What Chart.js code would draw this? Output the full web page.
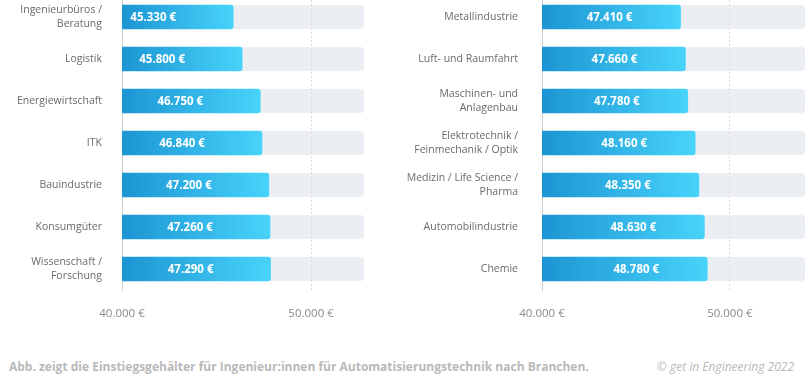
<!DOCTYPE html>
<html lang="de">
<head>
<meta charset="utf-8">
<script src="https://cdn.jsdelivr.net/npm/chart.js@4.4.1/dist/chart.umd.min.js"></script>
<style>
  html, body { margin: 0; padding: 0; background: #fff; }
  body { width: 806px; height: 375px; position: relative; overflow: hidden; font-family: "Open Sans", sans-serif; }
  .panel { position: absolute; top: -4px; height: 330px; }
  #left { left: 0; width: 400px; }
  #right { left: 400px; width: 406px; }
  .note { position: absolute; top: 359px; font-size: 12px; color: #b9b9b9; white-space: nowrap; line-height: 16px; }
  #caption { left: 9px; font-weight: 700; }
  #credit { right: 12px; font-style: italic; }
</style>
</head>
<body>
<div class="panel" id="left"><canvas id="leftChart"></canvas></div>
<div class="panel" id="right"><canvas id="rightChart"></canvas></div>
<div class="note" id="caption">Abb. zeigt die Einstiegsgehälter für Ingenieur:innen für Automatisierungstechnik nach Branchen.</div>
<div class="note" id="credit">© get in Engineering 2022</div>

<script>
const leftCategories = [
    ['Ingenieurbüros /', 'Beratung'],
    'Logistik',
    'Energiewirtschaft',
    'ITK',
    'Bauindustrie',
    'Konsumgüter',
    ['Wissenschaft /', 'Forschung']
];
const leftSalaries = [45330, 45800, 46750, 46840, 47200, 47260, 47290];

const rightCategories = [
    'Metallindustrie',
    'Luft- und Raumfahrt',
    ['Maschinen- und', 'Anlagenbau'],
    ['Elektrotechnik /', 'Feinmechanik / Optik'],
    ['Medizin / Life Science /', 'Pharma'],
    'Automobilindustrie',
    'Chemie'
];
const rightSalaries = [47410, 47660, 47780, 48160, 48350, 48630, 48780];

const axisTicks = [40000, 50000];

Chart.defaults.font.family = '"Open Sans", sans-serif';
Chart.defaults.animation = false;

function euro(v) {
    return String(v).replace(/\B(?=(\d{3})+(?!\d))/g, '.') + ' €';
}

// grey track behind every bar, drawn before the grid
const trackPlugin = {
    id: 'track',
    beforeDraw(chart) {
        const { ctx, chartArea } = chart;
        const meta = chart.getDatasetMeta(0);
        ctx.save();
        ctx.fillStyle = '#ebeff3';
        meta.data.forEach(bar => {
            const h = bar.height;
            ctx.beginPath();
            ctx.roundRect(chartArea.left, bar.y - h / 2, chartArea.right - chartArea.left, h, 4);
            ctx.fill();
        });
        ctx.restore();
    }
};

// white salary text inside the bar, a fixed distance before its end
const valuePlugin = {
    id: 'values',
    afterDatasetsDraw(chart, args, opts) {
        const { ctx } = chart;
        const meta = chart.getDatasetMeta(0);
        const data = chart.data.datasets[0].data;
        ctx.save();
        ctx.fillStyle = '#fff';
        ctx.font = 'bold 11.5px "Open Sans", sans-serif';
        ctx.textAlign = 'center';
        ctx.textBaseline = 'middle';
        meta.data.forEach((bar, i) => {
            ctx.fillText(euro(data[i]), bar.x - opts.offset, bar.y + 1);
        });
        ctx.restore();
    }
};

function makeChart(id, categories, salaries, cfg) {
    return new Chart(document.getElementById(id), {
        type: 'bar',
        data: {
            labels: categories,
            datasets: [{
                data: salaries,
                xAxisID: 'x',
                barThickness: 24,
                borderRadius: 3,
                borderSkipped: 'start',
                backgroundColor: c => {
                    const area = c.chart.chartArea;
                    if (!area) return '#1f9bd7';
                    const x1 = c.chart.scales.x.getPixelForValue(c.raw);
                    const g = c.chart.ctx.createLinearGradient(area.left, 0, x1, 0);
                    g.addColorStop(0, '#1b95d3');
                    g.addColorStop(1, '#48d3fa');
                    return g;
                }
            }]
        },
        options: {
            indexAxis: 'y',
            responsive: true,
            maintainAspectRatio: false,
            layout: { padding: { top: 0, bottom: 0, left: 0, right: cfg.padRight } },
            plugins: {
                legend: { display: false },
                tooltip: { enabled: false },
                values: { offset: cfg.labelOffset }
            },
            scales: {
                // scale the bars are measured on
                x: {
                    display: false,
                    min: cfg.barMin,
                    max: cfg.barMax
                },
                // scale carrying the printed ticks and the 50.000 gridline
                x2: {
                    position: 'bottom',
                    min: axisTicks[0],
                    max: cfg.tickMax,
                    afterBuildTicks: s => { s.ticks = axisTicks.map(v => ({ value: v })); },
                    afterFit: s => { s.height = 36; s.paddingLeft = 0; s.paddingRight = 0; },
                    border: { display: false, dash: [2, 2] },
                    grid: {
                        drawTicks: false,
                        color: c => (c.index === 0 ? 'rgba(0,0,0,0)' : '#dcdcdc'),
                        lineWidth: 1
                    },
                    ticks: {
                        padding: 17,
                        maxRotation: 0,
                        color: '#8a8a8a',
                        font: { size: 11.5 },
                        callback: v => euro(v)
                    }
                },
                y: {
                    afterFit: s => { s.width = cfg.axisWidth; s.paddingTop = 0; s.paddingBottom = 0; },
                    grid: { display: false, drawTicks: false },
                    border: { display: true, color: '#cfcfcf', width: 1 },
                    ticks: {
                        padding: cfg.labelPad,
                        color: '#6a6a6a',
                        font: { size: 10.5, lineHeight: 1.33 }
                    }
                }
            }
        },
        plugins: [trackPlugin, valuePlugin]
    });
}

// bar scales fitted to where the bars end in the original graphic
makeChart('leftChart', leftCategories, leftSalaries, {
    barMin: 39508, barMax: 52181, tickMax: 52800,
    axisWidth: 122, padRight: 36, labelPad: 20, labelOffset: 80
});
makeChart('rightChart', rightCategories, rightSalaries, {
    barMin: 40311, barMax: 53787, tickMax: 54000,
    axisWidth: 142, padRight: 1, labelPad: 24, labelOffset: 71
});
</script>
</body>
</html>
